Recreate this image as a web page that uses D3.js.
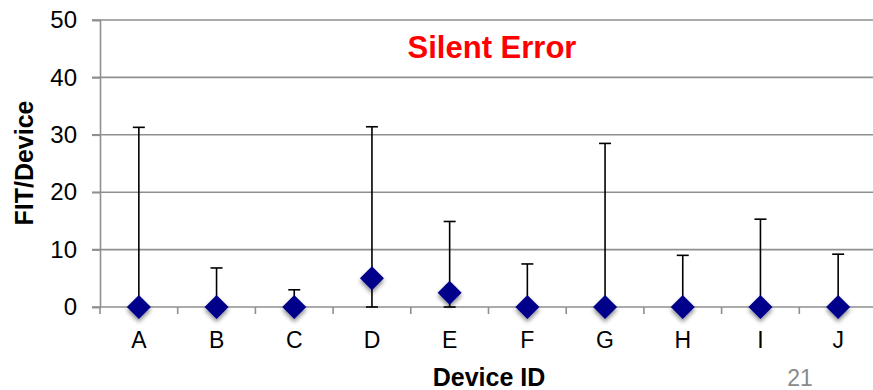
<!DOCTYPE html>
<html>
<head>
<meta charset="utf-8">
<script src="https://cdn.jsdelivr.net/npm/d3@7"></script>
<style>
  html, body { margin: 0; padding: 0; background: #fff; }
  svg { display: block; font-family: Arial, "Liberation Sans", Helvetica, sans-serif; }
</style>
</head>
<body>
<svg id="chart" width="873" height="390"></svg>
<script>
// Device identifiers along the x axis
const devices = ["A", "B", "C", "D", "E", "F", "G", "H", "I", "J"];
// Point estimate of FIT per device
const fitValues = [0, 0, 0, 5.0, 2.5, 0, 0, 0, 0, 0];
// Upper and lower confidence bounds
const upperBounds = [31.3, 6.8, 3.0, 31.4, 14.9, 7.5, 28.5, 9.0, 15.3, 9.2];
const lowerBounds = [0, 0, 0, 0, 0, 0, 0, 0, 0, 0];
// Y axis tick values
const yTicks = [0, 10, 20, 30, 40, 50];

const svg = d3.select("#chart");
const margin = { left: 100, top: 20, bottom: 83 };
const plotRight = 877;
const y0 = 307;

const x = d3.scaleBand().domain(devices).range([margin.left, plotRight]).padding(0);
const y = d3.scaleLinear().domain([0, 50]).range([y0, margin.top]);

const grid = "#8f8f8f";

// Horizontal gridlines
svg.append("g")
  .selectAll("line")
  .data(yTicks)
  .join("line")
  .attr("x1", margin.left - 8)
  .attr("x2", plotRight)
  .attr("y1", d => y(d))
  .attr("y2", d => y(d))
  .attr("stroke", grid)
  .attr("stroke-width", 1.6);

// Y axis
const yAxis = svg.append("g")
  .attr("transform", `translate(${margin.left},0)`)
  .call(d3.axisLeft(y).tickValues(yTicks).tickSize(8).tickPadding(15));
yAxis.select(".domain").attr("stroke", grid).attr("stroke-width", 1.6);
yAxis.selectAll(".tick line").attr("stroke", grid).attr("stroke-width", 1.6);
yAxis.selectAll(".tick text")
  .attr("fill", "#000")
  .style("font-size", "24px")
  .style("font-family", "Arial, 'Liberation Sans', sans-serif");

// X axis: tick marks sit at category boundaries
const boundaries = devices.map((d, i) => x(d)).concat([plotRight]);
svg.append("g")
  .selectAll("line")
  .data(boundaries)
  .join("line")
  .attr("x1", d => d)
  .attr("x2", d => d)
  .attr("y1", y0)
  .attr("y2", y0 + 7)
  .attr("stroke", grid)
  .attr("stroke-width", 1.6);

svg.append("g")
  .selectAll("text")
  .data(devices)
  .join("text")
  .attr("x", d => x(d) + x.bandwidth() / 2)
  .attr("y", 348)
  .attr("text-anchor", "middle")
  .style("font-size", "23px")
  .text(d => d);

// Drop shadow for the markers
const defs = svg.append("defs");
const f = defs.append("filter").attr("id", "shadow")
  .attr("x", "-50%").attr("y", "-50%").attr("width", "200%").attr("height", "200%");
f.append("feDropShadow")
  .attr("dx", 0).attr("dy", 3).attr("stdDeviation", 2.2)
  .attr("flood-color", "#000").attr("flood-opacity", 0.45);

const rows = devices.map((d, i) => ({
  id: d, v: fitValues[i], hi: upperBounds[i], lo: lowerBounds[i]
}));

// Error bars
const eb = svg.append("g").attr("stroke", "#000").attr("stroke-width", 1.6);
const cx = d => x(d.id) + x.bandwidth() / 2;
const capW = 6;
eb.selectAll("line.v")
  .data(rows)
  .join("line")
  .attr("class", "v")
  .attr("x1", cx).attr("x2", cx)
  .attr("y1", d => y(d.lo)).attr("y2", d => y(d.hi));
eb.selectAll("line.hi")
  .data(rows)
  .join("line")
  .attr("class", "hi")
  .attr("x1", d => cx(d) - capW).attr("x2", d => cx(d) + capW)
  .attr("y1", d => y(d.hi)).attr("y2", d => y(d.hi));
eb.selectAll("line.lo")
  .data(rows.filter(d => d.lo < d.v))
  .join("line")
  .attr("class", "lo")
  .attr("x1", d => cx(d) - capW).attr("x2", d => cx(d) + capW)
  .attr("y1", d => y(d.lo)).attr("y2", d => y(d.lo));

// Diamond markers
const r = 12;
svg.append("g")
  .selectAll("path")
  .data(rows)
  .join("path")
  .attr("d", d => {
    const px = cx(d), py = y(d.v);
    return `M${px},${py - r}L${px + r},${py}L${px},${py + r}L${px - r},${py}Z`;
  })
  .attr("fill", "#00008b")
  .attr("filter", "url(#shadow)");

// Title
svg.append("text")
  .attr("x", 492)
  .attr("y", 58)
  .attr("text-anchor", "middle")
  .attr("fill", "#ff0000")
  .style("font-size", "31px")
  .style("font-weight", "bold")
  .text("Silent Error");

// Axis titles
svg.append("text")
  .attr("transform", "translate(33,163) rotate(-90)")
  .attr("text-anchor", "middle")
  .style("font-size", "25px")
  .style("font-weight", "bold")
  .text("FIT/Device");

svg.append("text")
  .attr("x", 489)
  .attr("y", 386)
  .attr("text-anchor", "middle")
  .style("font-size", "25px")
  .style("font-weight", "bold")
  .text("Device ID");

// Slide number
svg.append("text")
  .attr("x", 800)
  .attr("y", 386)
  .attr("text-anchor", "middle")
  .attr("fill", "#8a8a8a")
  .style("font-size", "23px")
  .text("21");
</script>
</body>
</html>
